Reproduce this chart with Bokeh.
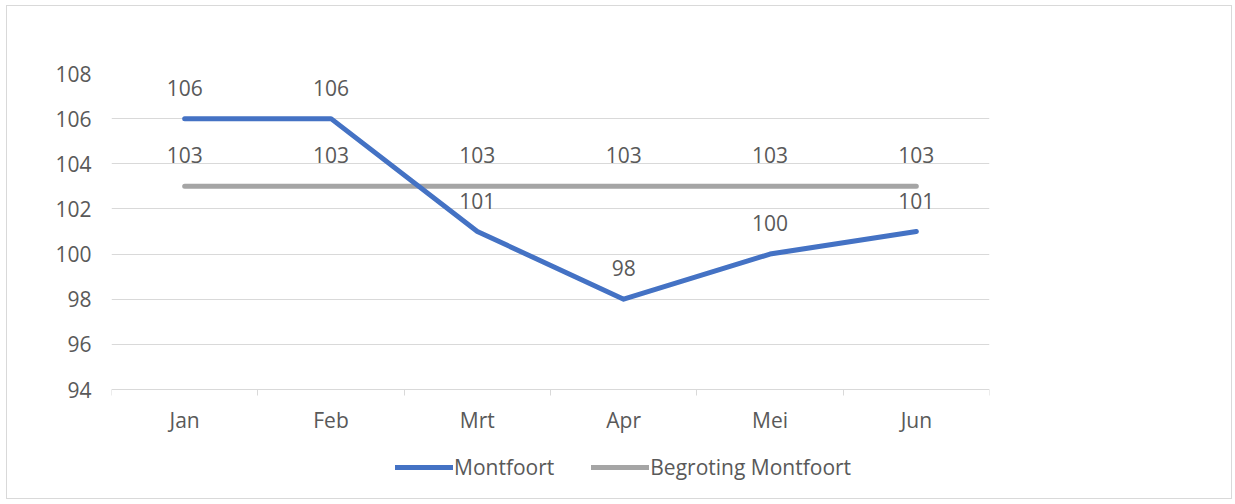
from bokeh.plotting import figure
from bokeh.models import ColumnDataSource, FixedTicker, Legend, LegendItem, Range1d, LinearAxis
from bokeh.core.properties import value
from bokeh.embed import file_html
from bokeh.resources import INLINE

months = ["Jan", "Feb", "Mrt", "Apr", "Mei", "Jun"]
montfoort = [106, 106, 101, 98, 100, 101]
begroting = [103, 103, 103, 103, 103, 103]
y_ticks = [94, 96, 98, 100, 102, 104, 106, 108]

FONT = "Open Sans"
TXT = "#595959"
GRID = "#D9D9D9"
FS = "21px"

# frame: value axis part is 316 px for 94..108, plus 101 px extra room below for the legend
AXIS_PX = 316
EXTRA_PX = 101
y_lo, y_hi = y_ticks[0], y_ticks[-1]
y_start = y_lo - EXTRA_PX * (y_hi - y_lo) / AXIS_PX

xs = [i + 0.5 for i in range(len(months))]
src = ColumnDataSource(dict(
    x=xs, m=montfoort, b=begroting,
    ml=[str(v) for v in montfoort], bl=[str(v) for v in begroting],
))

p = figure(frame_width=878, frame_height=AXIS_PX + EXTRA_PX, output_backend="svg", toolbar_location=None,
           x_range=Range1d(0, len(months)), y_range=Range1d(y_start, y_hi),
           min_border_left=104, min_border_right=242, min_border_top=67, min_border_bottom=8,
           x_axis_location=None)
p.styles = {"border": "1px solid #D9D9D9", "margin-left": "6px", "margin-top": "5px"}
p.outline_line_color = None
p.background_fill_color = "white"
p.border_fill_color = "white"

r_b = p.line("x", "b", source=src, line_color="#A5A5A5", line_width=5, line_cap="round")
r_m = p.line("x", "m", source=src, line_color="#4472C4", line_width=5, line_cap="round", line_join="round")

for col, lab in (("m", "ml"), ("b", "bl")):
    p.text("x", col, text=lab, source=src, text_align="center", text_baseline="middle",
           y_offset=-31, text_font=value(FONT), text_font_size=FS, text_color=TXT)

# category axis placed at the 94 line
xaxis = LinearAxis(fixed_location=y_lo)
p.add_layout(xaxis, "below")
xaxis.ticker = FixedTicker(ticks=xs, minor_ticks=list(range(len(months) + 1)))
xaxis.major_label_overrides = {x: m for x, m in zip(xs, months)}
xaxis.major_tick_line_color = None
xaxis.minor_tick_line_color = GRID
xaxis.minor_tick_in = 0
xaxis.minor_tick_out = 6
xaxis.axis_line_color = GRID
xaxis.major_label_standoff = 10
xaxis.major_label_text_font = FONT
xaxis.major_label_text_font_size = FS
xaxis.major_label_text_color = TXT

p.yaxis.ticker = FixedTicker(ticks=y_ticks)
p.yaxis.axis_line_color = None
p.yaxis.major_tick_line_color = None
p.yaxis.minor_tick_line_color = None
p.yaxis.major_label_standoff = 14
p.yaxis.major_label_text_font = FONT
p.yaxis.major_label_text_font_size = FS
p.yaxis.major_label_text_color = TXT

p.xgrid.grid_line_color = None
p.ygrid.ticker = FixedTicker(ticks=y_ticks[1:])
p.ygrid.grid_line_color = GRID

legend = Legend(items=[LegendItem(label="Montfoort", renderers=[r_m]),
                       LegendItem(label="Begroting Montfoort", renderers=[r_b])],
                orientation="horizontal", location=(284, 9), padding=0, margin=0,
                spacing=37, glyph_width=58, label_standoff=1, label_height=22, glyph_height=22,
                label_text_font=FONT, label_text_font_size=FS, label_text_color=TXT,
                background_fill_alpha=0, border_line_color=None)
p.add_layout(legend, "center")

open("out.html", "w").write(file_html(p, INLINE))
